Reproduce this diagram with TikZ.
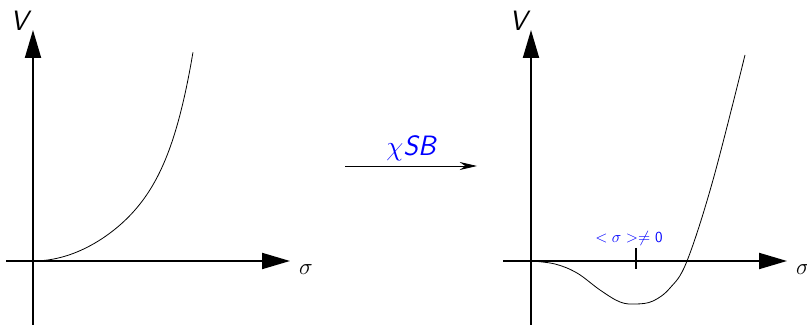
\documentclass[tikz,border=0pt]{standalone}
\usetikzlibrary{arrows.meta}
\begin{document}
\begin{tikzpicture}[x=0.75pt,y=-0.75pt,
  axis/.style={line width=1.5pt,-{Triangle[length=21pt,width=12pt]}},
  curve/.style={line width=0.6pt},
  lbl/.style={inner sep=0pt,font=\fontsize{21}{23}\selectfont\sffamily\slshape},
  bluelbl/.style={inner sep=0pt,text=blue}]
\useasboundingbox (0,0) rectangle (807,327);
% left plot
\coordinate (ly0) at (33,325);
\coordinate (ly1) at (33,30);
\coordinate (lx0) at (6,261);
\coordinate (lx1) at (290,261);
\draw[axis] (ly0) -- (ly1);
\draw[axis] (lx0) -- (lx1);
\node[lbl] (lV) at (19,21) {V};
\node[inner sep=0pt,font=\fontsize{19}{21}\selectfont] (ls) at (306,270) {$\sigma$};
\draw[curve] plot[domain=0:1.6,samples=80,smooth] ({33+100*\x},{261-(46.7*\x*\x+2.08*\x^8)});
% middle arrow
\coordinate (ma) at (345,166);
\coordinate (mb) at (477,166);
\draw[line width=0.6pt,-{Stealth[length=13pt,width=6pt]}] (ma) -- (mb);
\node[bluelbl,font=\fontsize{21}{23}\selectfont\sffamily\slshape] (chi) at (411,148) {$\chi$SB};
% right plot
\coordinate (ry0) at (531,325);
\coordinate (ry1) at (531,30);
\coordinate (rx0) at (503,261);
\coordinate (rx1) at (787,261);
\draw[axis] (ry0) -- (ry1);
\draw[axis] (rx0) -- (rx1);
\node[lbl] (rV) at (518,21) {V};
\node[inner sep=0pt,font=\fontsize{19}{21}\selectfont] (rs) at (803,270) {$\sigma$};
\coordinate (t0) at (636,248);
\coordinate (t1) at (636,269);
\draw[line width=1.5pt] (t0) -- (t1);
\node[bluelbl,font=\fontsize{11.5}{13}\selectfont\sffamily] (vev) at (629,239) {$<\sigma>\neq$ 0};
\draw[curve] plot[smooth,tension=0.6] coordinates {(531,261) (555,264) (577,273) (600,290) (620,302) (636,304) (653,301) (670,288) (687,261) (713,180) (745,55)};
\end{tikzpicture}
\end{document}
